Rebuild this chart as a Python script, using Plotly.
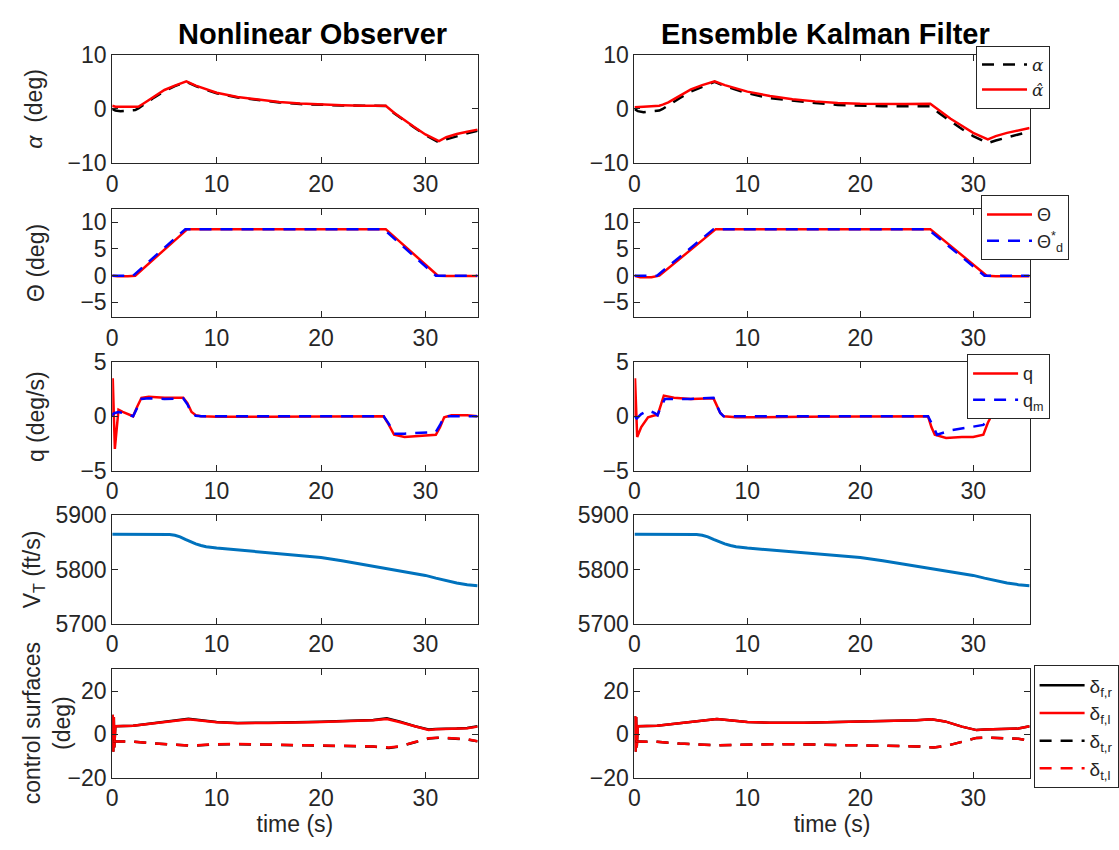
import plotly.graph_objects as go

W, H = 1119, 850

# ---------------- angle of attack (deg) ----------------
t_alpha = [0, 0.3, 0.8, 1.5, 2.2, 2.5, 3, 4, 5, 6, 7.1, 8, 9, 10, 12, 14, 16, 18, 20,
           22, 24, 26.2, 27, 28, 29, 30, 31.3, 32, 33, 34, 35]
alpha_no = [0, -0.3, -0.4, -0.3, -0.2, 0.1, 0.8, 2.1, 3.3, 4.2, 5.0, 4.2, 3.5, 2.9, 2.1,
            1.6, 1.2, 0.9, 0.75, 0.65, 0.6, 0.55, -0.8, -2.2, -3.5, -4.8, -6.2, -5.6,
            -5.0, -4.5, -4.0]
alpha_hat_no = [0.6, 0.4, 0.4, 0.35, 0.3, 0.4, 1.0, 2.3, 3.5, 4.3, 5.1, 4.3, 3.6, 3.0,
                2.2, 1.7, 1.3, 1.0, 0.8, 0.7, 0.6, 0.6, -0.7, -2.1, -3.4, -4.7, -5.9,
                -5.2, -4.6, -4.2, -3.8]
alpha_enkf = [0, -0.4, -0.6, -0.4, -0.3, 0.0, 0.7, 2.0, 3.2, 4.1, 5.0, 4.2, 3.5, 2.9,
              2.0, 1.5, 1.1, 0.75, 0.6, 0.5, 0.5, 0.5, -0.8, -2.3, -3.7, -5.0, -6.3,
              -5.8, -5.2, -4.7, -4.2]
alpha_hat_enkf = [0.3, 0.3, 0.4, 0.5, 0.6, 0.8, 1.2, 2.4, 3.6, 4.4, 5.1, 4.4, 3.8, 3.2,
                  2.4, 1.8, 1.4, 1.1, 0.95, 0.9, 0.9, 0.95, -0.3, -1.8, -3.1, -4.4, -5.6,
                  -5.0, -4.4, -3.9, -3.5]

# ---------------- pitch angle (deg) ----------------
t_theta_d = [0, 2.0, 7.0, 26.0, 31.0, 35]
theta_d = [0, 0, 8.7, 8.7, 0, 0]
t_theta = [0, 0.5, 1.5, 2.2, 7.2, 26.2, 31.2, 32, 35]
theta_no = [0, -0.1, -0.1, 0, 8.7, 8.7, 0, -0.05, -0.05]
theta_enkf = [0, -0.3, -0.3, 0, 8.7, 8.7, 0, -0.1, -0.1]

# ---------------- pitch rate (deg/s) ----------------
t_q_no = [0, 0.05, 0.25, 0.6, 1.0, 1.5, 2.0, 2.4, 2.8, 3.5, 5, 6.8, 7.2, 7.6, 8.0, 8.5,
          10, 15, 20, 25, 26.0, 26.5, 27, 28, 29, 30, 31, 31.4, 31.8, 32.5, 34, 35]
q_no = [0, 3.5, -3.0, 0.6, 0.4, 0.2, 0.0, 0.9, 1.7, 1.8, 1.7, 1.7, 1.2, 0.4, 0.1, 0.0,
        -0.05, -0.05, 0, 0, 0, -0.8, -1.7, -1.9, -1.85, -1.8, -1.7, -1.0, -0.1, 0.1, 0.1, 0.0]
qm_no = [0, 0.2, 0.3, 0.4, 0.3, 0.15, 0, 0.8, 1.6, 1.65, 1.6, 1.65, 1.1, 0.3, 0.05, 0,
         0, 0, 0, 0, 0, -0.7, -1.6, -1.6, -1.55, -1.5, -1.45, -0.8, 0, 0, 0, 0]

t_q_enkf = [0, 0.05, 0.24, 0.6, 1.2, 1.8, 2.05, 2.3, 2.6, 3.5, 5, 7.0, 7.3, 7.6, 7.9, 9,
            15, 20, 25, 26.0, 26.3, 26.6, 27.6, 29, 30, 30.9, 31.3, 31.6, 33, 34, 35]
q_enkf = [0, 3.5, -1.9, -1.0, -0.1, 0.1, 0.1, 1.0, 1.9, 1.7, 1.6, 1.65, 1.0, 0.3, 0,
          -0.1, -0.05, 0, 0, 0, -1.0, -1.7, -2.0, -1.9, -1.9, -1.7, -0.6, 0, -0.1, -0.1, 0]
t_qm_enkf = [0, 0.2, 0.6, 1.2, 1.8, 2.05, 2.3, 2.7, 5, 7.0, 7.3, 7.6, 7.9, 15, 26.0,
             26.4, 26.8, 28, 30, 30.9, 31.3, 31.7, 33, 34, 35]
qm_enkf = [0, -0.2, 0.2, 0.55, 0.3, 0.1, 0.8, 1.6, 1.6, 1.7, 1.0, 0.3, 0, 0, 0,
           -0.8, -1.7, -1.3, -1.0, -0.8, -0.2, 0.2, 0.3, 0.4, 0.3]

# ---------------- total velocity (ft/s) ----------------
t_vt = [0, 2, 4, 5.5, 6, 6.5, 7, 7.5, 8, 8.5, 9, 10, 12, 15, 18, 20, 22, 25, 27, 28,
        29, 30, 31, 32, 33, 34, 35]
vt = [5865, 5865, 5865, 5864.5, 5863, 5860, 5855.5, 5851, 5847, 5844, 5842, 5839.5,
      5836, 5831, 5826, 5822, 5816, 5806, 5799, 5796, 5793, 5789, 5784, 5779, 5775,
      5772, 5770]

# ---------------- control surfaces (deg) ----------------
t_fin = [0, 0.05, 0.1, 0.15, 0.2, 0.3, 2, 4, 7.3, 10, 12, 15, 20, 25, 26.3, 27.5, 29,
         30.3, 31, 33, 34, 35]
df_r_no = [4, 9, -8, 8, -6, 3.8, 4, 5.2, 7.2, 5.7, 5.3, 5.4, 5.8, 6.7, 7.5, 6.0, 3.8,
           2.3, 2.5, 2.7, 3.0, 3.8]
df_l_no = [4, 9, -8, 8, -6, 3.8, 4, 5.1, 7.0, 5.6, 5.2, 5.3, 5.7, 6.5, 7.1, 5.7, 3.6,
           2.1, 2.4, 2.6, 2.9, 3.6]
df_r_enkf = [4, 8.5, -8, 8, -6, 3.8, 4, 5.2, 7.1, 5.7, 5.4, 5.4, 5.8, 6.5, 7.0, 6.0,
             3.6, 2.0, 2.3, 2.5, 2.7, 3.8]
df_l_enkf = [4, 8.5, -8, 8, -6, 3.8, 4, 5.2, 7.1, 5.7, 5.4, 5.4, 5.8, 6.5, 7.0, 6.0,
             3.6, 2.0, 2.3, 2.5, 2.7, 3.8]

t_tail = [0.1, 0.3, 2, 4, 7.5, 10, 12, 15, 20, 25, 26.5, 27.5, 29, 30.3, 31.5, 33, 34, 35]
dt_r_no = [-3, -3.2, -3.3, -4.2, -5.2, -4.6, -4.5, -4.7, -5.1, -5.6, -6.2, -5.6, -3.6,
           -1.9, -1.5, -2.0, -2.3, -3.2]
dt_l_no = [-3, -3.2, -3.3, -4.2, -5.1, -4.5, -4.4, -4.6, -5.0, -5.5, -6.0, -5.5, -3.5,
           -1.8, -1.4, -1.9, -2.2, -3.1]
dt_r_enkf = [-3, -3.3, -3.4, -4.2, -5.0, -4.6, -4.5, -4.6, -5.0, -5.5, -6.0, -5.4, -3.4,
             -1.6, -1.5, -1.8, -2.0, -2.8]
dt_l_enkf = [-3, -3.3, -3.4, -4.2, -5.0, -4.6, -4.5, -4.6, -5.0, -5.5, -6.0, -5.4, -3.4,
             -1.6, -1.5, -1.8, -2.0, -2.8]

x_ticks = [0, 10, 20, 30]

# colours
RED = "#ff0000"
BLUE = "#0000ff"
BLACK = "#000000"
MBLUE = "#0072bd"
AXC = "#262626"
DASH = "12px,9px"
LW = 2.5
SANS = "Liberation Sans, Arial, sans-serif"

# axes layout in pixels: column left/right edges, row tops, row height
col_px = [(107, 475), (633, 1031)]
row_top = [43, 202, 360, 518, 677]
row_h = 112

fig = go.Figure()


def axis_id(row, col):
    return row * 2 + col + 1


def add(row, col, x, y, color, dash=None, name=None, legend=None, width=LW):
    k = axis_id(row, col)
    fig.add_trace(go.Scatter(
        x=x, y=y, mode="lines", name=name,
        line=dict(color=color, width=width, dash=dash or "solid"),
        xaxis="x" if k == 1 else f"x{k}", yaxis="y" if k == 1 else f"y{k}",
        showlegend=legend is not None, legend=legend,
    ))


# row 0: alpha
add(0, 0, t_alpha, alpha_no, BLACK, DASH)
add(0, 0, t_alpha, alpha_hat_no, RED)
add(0, 1, t_alpha, alpha_enkf, BLACK, DASH, "<i>α</i>", "legend")
add(0, 1, t_alpha, alpha_hat_enkf, RED, None, "<i>α̂</i>", "legend")

# row 1: theta
add(1, 0, t_theta, theta_no, RED)
add(1, 0, t_theta_d, theta_d, BLUE, DASH)
add(1, 1, t_theta, theta_enkf, RED, None, "Θ", "legend2")
add(1, 1, t_theta_d, theta_d, BLUE, DASH, "Θ<sup>*</sup><sub>d</sub>", "legend2")

# row 2: q
add(2, 0, t_q_no, q_no, RED)
add(2, 0, t_q_no, qm_no, BLUE, DASH)
add(2, 1, t_q_enkf, q_enkf, RED, None, "q", "legend3")
add(2, 1, t_qm_enkf, qm_enkf, BLUE, DASH, "q<sub>m</sub>", "legend3")

# row 3: V_T
add(3, 0, t_vt, vt, MBLUE, width=3)
add(3, 1, t_vt, vt, MBLUE, width=3)

# row 4: control surfaces
add(4, 0, t_fin, df_r_no, BLACK)
add(4, 0, t_fin, df_l_no, RED)
add(4, 0, t_tail, dt_r_no, BLACK, DASH)
add(4, 0, t_tail, dt_l_no, RED, DASH)
add(4, 1, t_fin, df_r_enkf, BLACK, None, "δ<sub>f,r</sub>", "legend4")
add(4, 1, t_fin, df_l_enkf, RED, None, "δ<sub>f,l</sub>", "legend4")
add(4, 1, t_tail, dt_r_enkf, BLACK, DASH, "δ<sub>t,r</sub>", "legend4")
add(4, 1, t_tail, dt_l_enkf, RED, DASH, "δ<sub>t,l</sub>", "legend4")

y_ranges = [[-10, 10], [-7.8, 12.5], [-5, 5], [5700, 5900], [-20, 30]]
y_ticks = [[-10, 0, 10], [-5, 0, 5, 10], [-5, 0, 5], [5700, 5800, 5900], [-20, 0, 20]]

TICKFONT = dict(family=SANS, size=23, color=AXC)

layout = {}
for r in range(5):
    for c in range(2):
        k = axis_id(r, c)
        x0, x1 = col_px[c]
        top = row_top[r]
        xd = [x0 / W, x1 / W]
        yd = [1 - (top + row_h) / H, 1 - top / H]
        xkey = "xaxis" if k == 1 else f"xaxis{k}"
        ykey = "yaxis" if k == 1 else f"yaxis{k}"
        xt = [10, 20, 30] if (r == 1 and c == 1) else x_ticks
        layout[xkey] = dict(
            domain=xd, range=[0, 35], tickvals=xt, ticks="inside", ticklen=6,
            tickcolor=AXC, showline=True, linecolor=AXC, linewidth=1, mirror="allticks",
            showgrid=False, zeroline=False, tickfont=TICKFONT,
            anchor="y" if k == 1 else f"y{k}",
            title=dict(text="time (s)", font=TICKFONT, standoff=2) if r == 4 else None,
        )
        layout[ykey] = dict(
            domain=yd, range=y_ranges[r], tickvals=y_ticks[r], ticks="inside", ticklen=6,
            tickcolor=AXC, showline=True, linecolor=AXC, linewidth=1, mirror="allticks",
            showgrid=False, zeroline=False, tickfont=TICKFONT,
            anchor="x" if k == 1 else f"x{k}",
        )

fig.update_layout(**layout)

# y-axis labels of the left column
ylabels = ["<i>α</i>  (deg)", "Θ (deg)", "q (deg/s)", "V<sub>T</sub> (ft/s)",
           "control surfaces<br>(deg)"]
ylabel_x = [28, 30, 30, 28, 41]
annotations = []
for r, txt in enumerate(ylabels):
    yc = 1 - (row_top[r] + row_h / 2) / H
    annotations.append(dict(
        text=txt, x=ylabel_x[r] / W, y=yc, xref="paper", yref="paper",
        xanchor="center", yanchor="middle", textangle=-90, showarrow=False,
        font=dict(family=SANS, size=23, color=AXC),
    ))

# column titles
for txt, xc in [("Nonlinear Observer", 309), ("Ensemble Kalman Filter", 825)]:
    annotations.append(dict(
        text=f"<b>{txt}</b>", x=xc / W, y=1 - 22 / H, xref="paper",
        yref="paper", xanchor="center", yanchor="middle", showarrow=False,
        font=dict(family=SANS, size=29, color="#000000"),
    ))

LEG = dict(bgcolor="#ffffff", bordercolor=AXC, borderwidth=1, xanchor="left",
           yanchor="top", itemwidth=45, tracegroupgap=0)

fig.update_layout(
    width=W, height=H, margin=dict(l=0, r=0, t=0, b=0),
    paper_bgcolor="#ffffff", plot_bgcolor="#ffffff",
    annotations=annotations,
    legend={**LEG, "x": 977 / W, "y": 1 - 34 / H,
            "font": dict(family="DejaVu Serif, serif", size=17, color=AXC)},
    legend2={**LEG, "x": 982 / W, "y": 1 - 188 / H,
             "font": dict(family=SANS, size=18, color=AXC)},
    legend3={**LEG, "x": 968 / W, "y": 1 - 352 / H,
             "font": dict(family=SANS, size=18, color=AXC)},
    legend4={**LEG, "x": 1035 / W, "y": 1 - 673 / H,
             "font": dict(family=SANS, size=19, color=AXC)},
    showlegend=True,
)

fig.write_html("out.html")
